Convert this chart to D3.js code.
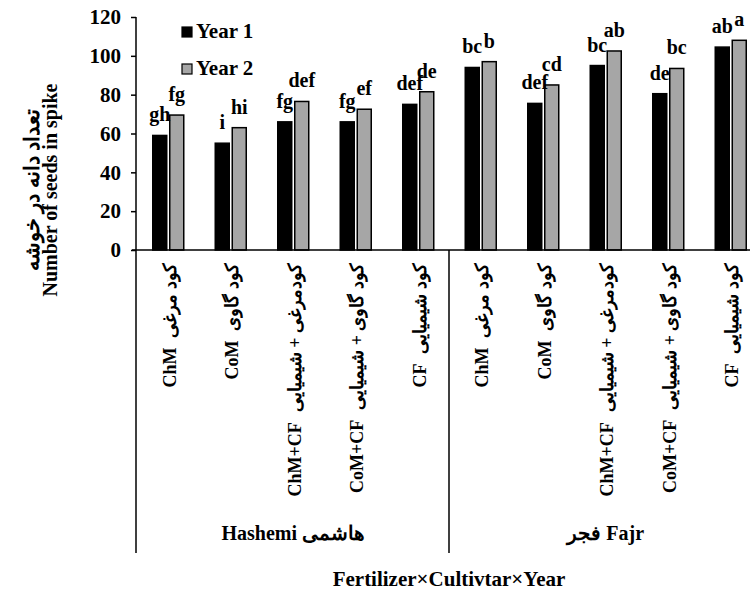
<!DOCTYPE html>
<html>
<head>
<meta charset="utf-8">
<script src="https://cdn.jsdelivr.net/npm/d3@7"></script>
<style>
  body { margin: 0; background: #fff; }
  svg text { font-family: "Liberation Serif", "Times New Roman", serif; font-weight: bold; fill: #000; }
</style>
</head>
<body>
<div id="chart"></div>
<script>
const fertCodes = ['ChM', 'CoM', 'ChM+CF', 'CoM+CF', 'CF', 'ChM', 'CoM', 'ChM+CF', 'CoM+CF', 'CF'];
const fertNames = [
  'کود مرغی', 'کود گاوی', 'کودمرغی + شیمیایی', 'کود گاوی + شیمیایی', 'کود شیمیایی',
  'کود مرغی', 'کود گاوی', 'کودمرغی + شیمیایی', 'کود گاوی + شیمیایی', 'کود شیمیایی'
];
const cultivars = ['Hashemi هاشمی', 'فجر Fajr'];
const year1 = [59, 55, 66, 66, 75, 94, 75.5, 95, 80.5, 104.5];
const year2 = [69.5, 63, 76.5, 72.5, 81.5, 97, 85, 102.5, 93.5, 108];
const letters1 = ['gh', 'i', 'fg', 'fg', 'def', 'bc', 'def', 'bc', 'de', 'ab'];
const letters2 = ['fg', 'hi', 'def', 'ef', 'de', 'b', 'cd', 'ab', 'bc', 'a'];
const yTicks = [0, 20, 40, 60, 80, 100, 120];
const seriesNames = ['Year 1', 'Year 2'];

const width = 750, height = 592;
const colors = ['#000000', '#a6a6a6'];

const svg = d3.select('#chart').append('svg')
  .attr('width', width)
  .attr('height', height);

const x = d3.scaleBand()
  .domain(d3.range(fertCodes.length))
  .range([137, 762])
  .padding(0);

const y = d3.scaleLinear()
  .domain([0, 120])
  .range([250, 17]);

const barW = 14;
const offsets = [-15.5, 1.5];
const cx = i => x(i) + x.bandwidth() / 2;

// bars
[year1, year2].forEach((vals, s) => {
  svg.append('g').selectAll('rect')
    .data(vals)
    .enter()
    .append('rect')
    .attr('x', (d, i) => cx(i) + offsets[s])
    .attr('y', d => y(d))
    .attr('width', barW)
    .attr('height', d => y(0) - y(d))
    .attr('fill', colors[s])
    .attr('stroke', '#000')
    .attr('stroke-width', 1.5);
});

// significance letters
[letters1, letters2].forEach((labs, s) => {
  const vals = s === 0 ? year1 : year2;
  svg.append('g').selectAll('text')
    .data(labs)
    .enter()
    .append('text')
    .attr('x', (d, i) => cx(i) + offsets[s] + barW / 2)
    .attr('y', (d, i) => y(vals[i]) - 14)
    .attr('text-anchor', 'middle')
    .attr('font-size', '20px')
    .text(d => d);
});

// y axis
const yAxis = svg.append('g')
  .attr('transform', 'translate(136,0)')
  .call(d3.axisLeft(y).tickValues(yTicks).tickSize(5).tickPadding(10));
yAxis.select('.domain').attr('stroke', '#000').attr('stroke-width', 1.5)
  .attr('d', 'M0,' + y(120) + 'V' + y(0));
yAxis.selectAll('.tick line').attr('stroke-width', 1.5);
yAxis.selectAll('.tick text')
  .attr('font-size', '21px');

// x axis baseline
svg.append('line')
  .attr('x1', 132).attr('x2', width)
  .attr('y1', y(0)).attr('y2', y(0))
  .attr('stroke', '#000').attr('stroke-width', 1.5);

// category labels: persian part on top, code below it
const catG = svg.append('g');
fertCodes.forEach((code, i) => {
  const t1 = catG.append('text')
    .attr('transform', `translate(${cx(i) + 1},263) rotate(-90)`)
    .attr('dy', '0.35em')
    .attr('text-anchor', 'end')
    .attr('font-size', '18px')
    .text(fertNames[i]);
  const len = t1.node().getComputedTextLength();
  catG.append('text')
    .attr('transform', `translate(${cx(i) + 1},${263 + len + 10}) rotate(-90)`)
    .attr('dy', '0.35em')
    .attr('text-anchor', 'end')
    .attr('font-size', '18px')
    .text(code);
});

// cultivar separators + labels
const groupEdges = [0, 5, 10];
svg.append('g').selectAll('line')
  .data(groupEdges)
  .enter()
  .append('line')
  .attr('x1', d => d === 0 ? 136 : x.range()[0] + d * x.step() - 0.5)
  .attr('x2', d => d === 0 ? 136 : x.range()[0] + d * x.step() - 0.5)
  .attr('y1', y(0))
  .attr('y2', 553)
  .attr('stroke', '#000')
  .attr('stroke-width', 1.5);

svg.append('g').selectAll('text')
  .data(cultivars)
  .enter()
  .append('text')
  .attr('x', (d, i) => x.range()[0] + (i * 5 + 2.5) * x.step())
  .attr('y', 540)
  .attr('text-anchor', 'middle')
  .attr('font-size', '20px')
  .attr('direction', 'ltr')
  .text(d => d);

// x axis title
svg.append('text')
  .attr('x', 449)
  .attr('y', 586)
  .attr('text-anchor', 'middle')
  .attr('font-size', '21px')
  .text('Fertilizer×Cultivtar×Year');

// y axis title
svg.append('text')
  .attr('transform', 'translate(39,190) rotate(-90)')
  .attr('text-anchor', 'middle')
  .attr('font-size', '21px')
  .attr('direction', 'rtl')
  .text('تعداد دانه در خوشه');
svg.append('text')
  .attr('transform', 'translate(57,190) rotate(-90)')
  .attr('text-anchor', 'middle')
  .attr('font-size', '20px')
  .text('Number of seeds in spike');

// legend
const legend = svg.append('g').selectAll('g')
  .data(seriesNames)
  .enter()
  .append('g')
  .attr('transform', (d, i) => `translate(182,${27 + i * 37})`);
legend.append('rect')
  .attr('width', 10).attr('height', 10)
  .attr('fill', (d, i) => colors[i])
  .attr('stroke', '#000').attr('stroke-width', 1.2);
legend.append('text')
  .attr('x', 14).attr('y', 11)
  .attr('font-size', '21px')
  .text(d => d);
</script>
</body>
</html>
